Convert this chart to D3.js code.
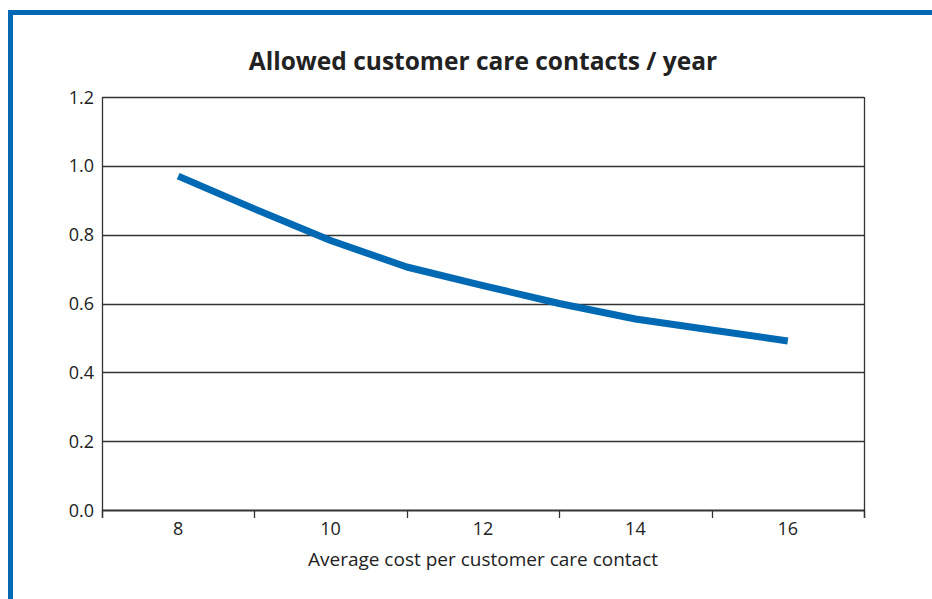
<!DOCTYPE html>
<html>
<head>
<meta charset="utf-8">
<script src="https://cdn.jsdelivr.net/npm/d3@7"></script>
<style>
html,body{margin:0;padding:0;background:#fff;}
svg{display:block;font-family:"Open Sans",sans-serif;}
</style>
</head>
<body>
<svg id="chart" width="932" height="599"></svg>
<script>
const costs = [8, 9, 10, 11, 12, 13, 14, 15, 16];
const contacts = [0.970, 0.875, 0.783, 0.706, 0.652, 0.600, 0.555, 0.523, 0.491];
const xLabelTicks = [8, 10, 12, 14, 16];
const xMarkTicks = [7, 9, 11, 13, 15, 17];
const yTicks = [0, 0.2, 0.4, 0.6, 0.8, 1.0, 1.2];
const title = "Allowed customer care contacts / year";
const xTitle = "Average cost per customer care contact";

const svg = d3.select("#chart");
const blue = "#0069b4";
const L = 102, R = 864, T = 97, B = 510;

// frame
svg.append("line").attr("x1", 10.5).attr("x2", 932).attr("y1", 12.5).attr("y2", 12.5)
  .attr("stroke", blue).attr("stroke-width", 5);
svg.append("line").attr("x1", 10.5).attr("x2", 10.5).attr("y1", 10).attr("y2", 599)
  .attr("stroke", blue).attr("stroke-width", 5);

const x = d3.scaleLinear().domain([7, 17]).range([L, R]);
const y = d3.scaleLinear().domain([0, 1.2]).range([B, T]);

// gridlines
svg.append("g").selectAll("line").data(yTicks).join("line")
  .attr("x1", L).attr("x2", R)
  .attr("y1", d => Math.round(y(d)) + 0.5).attr("y2", d => Math.round(y(d)) + 0.5)
  .attr("stroke", "#333").attr("stroke-width", d => d === 0 ? 2 : 1.3);

// side borders
svg.append("line").attr("x1", L + 0.5).attr("x2", L + 0.5).attr("y1", T).attr("y2", B + 8)
  .attr("stroke", "#333").attr("stroke-width", 1.3);
svg.append("line").attr("x1", R + 0.5).attr("x2", R + 0.5).attr("y1", T).attr("y2", B + 8)
  .attr("stroke", "#333").attr("stroke-width", 1.3);

// x tick marks
svg.append("g").selectAll("line").data(xMarkTicks).join("line")
  .attr("x1", d => Math.round(x(d)) + 0.5).attr("x2", d => Math.round(x(d)) + 0.5)
  .attr("y1", B).attr("y2", B + 8)
  .attr("stroke", "#333").attr("stroke-width", 1.3);

// y labels
svg.append("g").selectAll("text").data(yTicks).join("text")
  .attr("x", 94).attr("y", d => y(d) + 6.5)
  .attr("text-anchor", "end").attr("font-size", 18).attr("fill", "#222")
  .text(d => d3.format(".1f")(d));

// x labels
svg.append("g").selectAll("text").data(xLabelTicks).join("text")
  .attr("x", d => x(d)).attr("y", 535)
  .attr("text-anchor", "middle").attr("font-size", 18).attr("fill", "#222")
  .text(d => d);

// axis title
svg.append("text").attr("x", (L + R) / 2).attr("y", 566)
  .attr("text-anchor", "middle").attr("font-size", 19).attr("fill", "#222")
  .text(xTitle);

// chart title
svg.append("text").attr("x", (L + R) / 2).attr("y", 70)
  .attr("text-anchor", "middle").attr("font-size", 24.5).attr("font-weight", "bold").attr("fill", "#222")
  .text(title);

// line
const line = d3.line().x((d, i) => x(costs[i])).y(d => y(d));
svg.append("path").datum(contacts)
  .attr("d", line).attr("fill", "none")
  .attr("stroke", blue).attr("stroke-width", 7).attr("stroke-linejoin", "round");
</script>
</body>
</html>
